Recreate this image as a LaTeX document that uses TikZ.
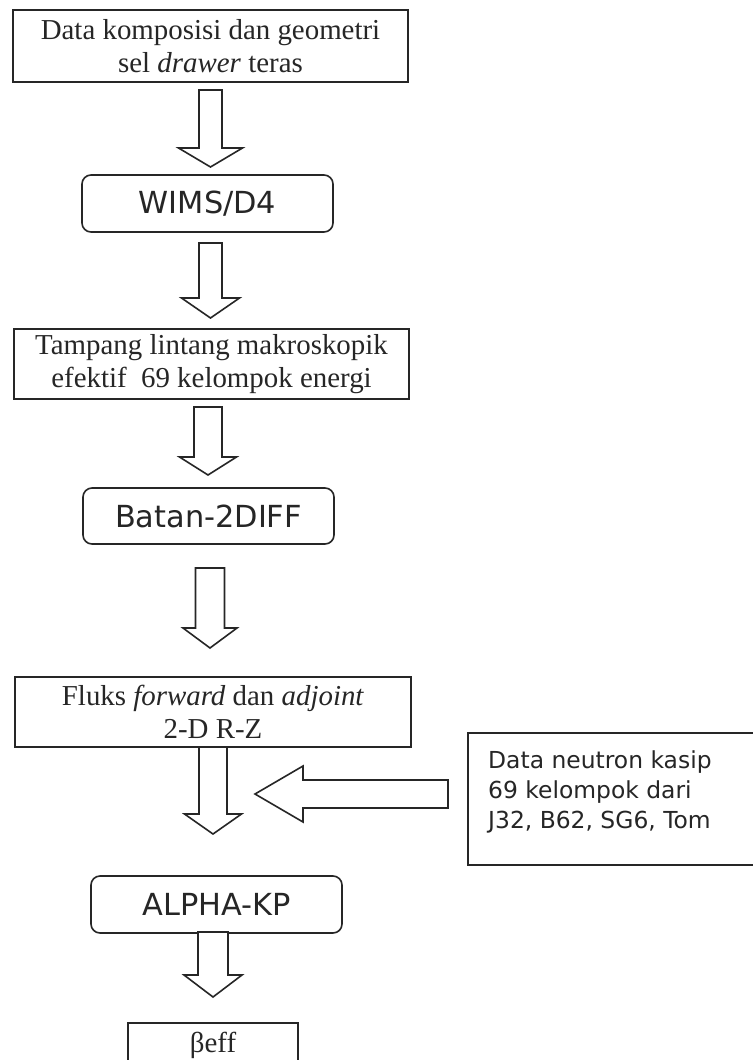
\documentclass[tikz,border=0pt]{standalone}
\usepackage{fontspec}
\setmainfont{Liberation Serif}
\newfontfamily\vsans{DejaVu Sans}
\definecolor{ink}{HTML}{262626}
\tikzset{
  sbox/.style={draw=ink, line width=1.6bp, rectangle, inner sep=0pt, text=ink,
    font=\fontsize{29}{32.5}\selectfont, align=center},
  rbox/.style={sbox, rounded corners=9bp, font=\vsans\fontsize{30.5}{34}\selectfont},
  blk/.style={draw=ink, line width=1.6bp, fill=white, line join=miter}
}
\newcommand{\darrow}[6]{\draw[blk] (#1-#5,#2) -- (#1+#5,#2) -- (#1+#5,#3) -- (#1+#6,#3) -- (#1,#4) -- (#1-#6,#3) -- (#1-#5,#3) -- cycle;}
\begin{document}
\begin{tikzpicture}[x=1bp,y=-1bp]
\useasboundingbox (0,0) rectangle (753,1060);
\clip (0,0) rectangle (753,1060);
\fill[white] (0,0) rectangle (753,1060);

\node[sbox, minimum width=395bp, minimum height=72bp] (n1) at (210.5,46)
  {Data komposisi dan geometri\\ sel \textit{drawer} teras};
\node[rbox, minimum width=251bp, minimum height=57bp] (n2) at (207.5,203.5) {WIMS/D4};
\node[sbox, minimum width=395bp, minimum height=70bp] (n3) at (211.5,364)
  {Tampang lintang makroskopik\\ efektif\ \ 69 kelompok energi};
\node[rbox, minimum width=251bp, minimum height=56bp] (n4) at (208.5,516) {Batan-2DIFF};
\node[sbox, minimum width=396bp, minimum height=70bp] (n5) at (213,712)
  {Fluks \textit{forward} dan \textit{adjoint}\\ 2-D R-Z};
\node[rbox, minimum width=251bp, minimum height=57bp] (n6) at (216.5,904.5) {ALPHA-KP};
\node[sbox, minimum width=170bp, minimum height=44bp] (n7) at (213,1045) {βeff};
\node[sbox, anchor=west, minimum width=312bp, minimum height=132bp] (side) at (467,799) {};
\node[anchor=west, inner sep=0pt, text=ink, align=left,
  font=\vsans\fontsize{23.5}{30}\selectfont] (sidetxt) at ([xshift=21bp,yshift=7bp]side.west)
  {Data neutron kasip\\69 kelompok dari\\J32, B62, SG6, Tom};

\darrow{210.5}{90}{148}{167}{11.5}{32}
\darrow{210.5}{243}{298}{318}{11.5}{29}
\darrow{208}{407}{457}{475}{14}{28.5}
\darrow{210}{568}{628}{648}{14.5}{27}
\darrow{213}{747}{814}{834}{14}{28.5}
\darrow{213}{932}{975}{997}{15}{29}
\draw[blk] (448,780) -- (303,780) -- (303,766) -- (255,794) -- (303,822) -- (303,808) -- (448,808) -- cycle;
\end{tikzpicture}
\end{document}
